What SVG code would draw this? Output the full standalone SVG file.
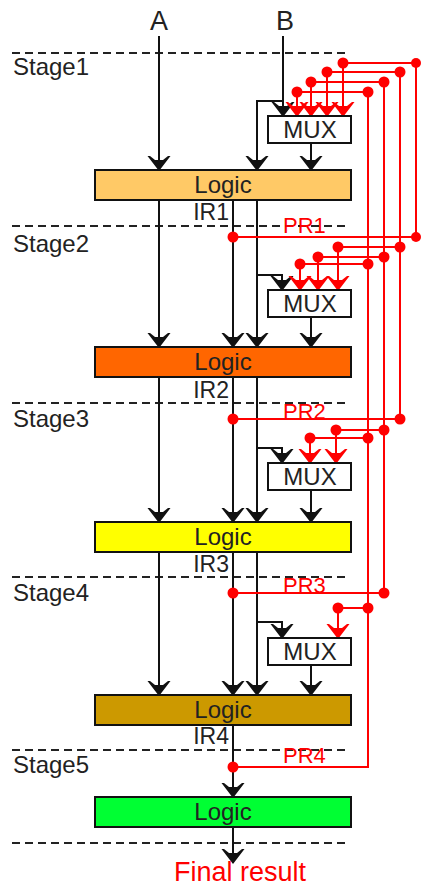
<svg xmlns="http://www.w3.org/2000/svg" width="421" height="887" viewBox="0 0 421 887">
<style>
text{font-family:"Liberation Sans",Arial,sans-serif;fill:#222}
.t{font-size:24px}
.ir{font-size:23px;text-anchor:end}
.pr{font-size:22px;fill:#ff0000}
.c{text-anchor:middle}
.box{stroke:#111;stroke-width:2}
.dash{stroke:#222;stroke-width:2;stroke-dasharray:8,5;fill:none}
.k{stroke:#111;stroke-width:2;fill:none}
.r{stroke:#ff0000;stroke-width:2;fill:none}
.dot{fill:#ff0000}
</style>
<defs>
<marker id="ak" viewBox="-15 -13 17 26" markerWidth="17" markerHeight="26" refX="0" refY="0" orient="auto" markerUnits="userSpaceOnUse">
<path d="M1,0 L-14,-11.5 L-14,-9 L-10,-4 L-10,4 L-14,9 L-14,11.5 Z" fill="#111"/>
</marker>
<marker id="ar" viewBox="-15 -13 17 26" markerWidth="17" markerHeight="26" refX="0" refY="0" orient="auto" markerUnits="userSpaceOnUse">
<path d="M1,0 L-14,-11.5 L-14,-9 L-10,-4 L-10,4 L-14,9 L-14,11.5 Z" fill="#ff0000"/>
</marker>
</defs>
<rect width="421" height="887" fill="#fff"/>

<g id="stages">
<path class="dash" d="M12,53H350M12,226H350M12,403H350M12,577H350M12,750H350M12,843H350"/>
<text class="t" x="13" y="75">Stage1</text>
<text class="t" x="13" y="252">Stage2</text>
<text class="t" x="13" y="427">Stage3</text>
<text class="t" x="13" y="601">Stage4</text>
<text class="t" x="13" y="773">Stage5</text>
</g>

<g id="inputs">
<text class="c" x="159" y="30" style="font-size:27px">A</text>
<text class="c" x="285" y="30" style="font-size:27px">B</text>
</g>

<g id="connectors">
<g class="k" marker-end="url(#ak)">
<path d="M159,36V170"/>
<path d="M283,36V116"/>
<path d="M283,101H257V170"/>
<path d="M311,143V170"/>
<path d="M159,200V347"/>
<path d="M233,200V347"/>
<path d="M257,200V347"/>
<path d="M257,275H282V290"/>
<path d="M311,317V347"/>
<path d="M159,377V522"/>
<path d="M233,377V522"/>
<path d="M257,377V522"/>
<path d="M257,448H282V463"/>
<path d="M311,490V522"/>
<path d="M159,552V695"/>
<path d="M233,552V695"/>
<path d="M257,552V695"/>
<path d="M257,622H282V638"/>
<path d="M311,664V695"/>
<path d="M233,725V797"/>
<path d="M233,827V863"/>
</g>
<g class="r" marker-end="url(#ar)">
<path d="M233,237H416V63H343V116"/>
<path d="M233,419H400V72H327V116"/>
<path d="M233,593H384V82H311V116"/>
<path d="M400,247H338V290"/>
<path d="M384,257H318V290"/>
<path d="M368,264H300V290"/>
<path d="M384,430H336V463"/>
<path d="M368,438H310V463"/>
<path d="M368,608H338V638"/>
<path d="M233,767H368V92H297V116"/>
</g>
<g class="dot">
<circle cx="233" cy="237" r="5.5"/><circle cx="416" cy="237" r="5"/>
<circle cx="416" cy="63" r="5"/><circle cx="343" cy="63" r="5.5"/>
<circle cx="400" cy="72" r="5.5"/><circle cx="327" cy="72" r="5.5"/>
<circle cx="384" cy="82" r="5.5"/><circle cx="311" cy="82" r="5.5"/>
<circle cx="368" cy="92" r="5.5"/><circle cx="297" cy="92" r="5.5"/>
<circle cx="400" cy="247" r="5.5"/><circle cx="338" cy="247" r="5.5"/>
<circle cx="384" cy="257" r="5.5"/><circle cx="318" cy="257" r="5.5"/>
<circle cx="368" cy="264" r="5.5"/><circle cx="300" cy="264" r="5.5"/>
<circle cx="233" cy="419" r="5.5"/><circle cx="400" cy="419" r="5.5"/>
<circle cx="384" cy="430" r="5.5"/><circle cx="336" cy="430" r="5.5"/>
<circle cx="368" cy="438" r="5.5"/><circle cx="310" cy="438" r="5.5"/>
<circle cx="233" cy="593" r="5.5"/><circle cx="384" cy="593" r="5.5"/>
<circle cx="368" cy="608" r="5.5"/><circle cx="338" cy="608" r="5.5"/>
<circle cx="233" cy="767" r="5.5"/>
</g>
</g>

<g id="logic1"><rect class="box" x="95" y="170" width="256" height="30" fill="#ffc966"/><text class="t c" x="223" y="193">Logic</text></g>
<g id="logic2"><rect class="box" x="95" y="347" width="256" height="30" fill="#ff6600"/><text class="t c" x="223" y="370">Logic</text></g>
<g id="logic3"><rect class="box" x="95" y="522" width="256" height="30" fill="#ffff00"/><text class="t c" x="223" y="545">Logic</text></g>
<g id="logic4"><rect class="box" x="95" y="695" width="256" height="30" fill="#cc9900"/><text class="t c" x="223" y="718">Logic</text></g>
<g id="logic5"><rect class="box" x="95" y="797" width="256" height="30" fill="#00ff33"/><text class="t c" x="223" y="820">Logic</text></g>

<g id="mux1"><rect class="box" x="268" y="116" width="83" height="27" fill="#fff"/><text class="t c" x="310" y="138">MUX</text></g>
<g id="mux2"><rect class="box" x="268" y="290" width="83" height="27" fill="#fff"/><text class="t c" x="310" y="312">MUX</text></g>
<g id="mux3"><rect class="box" x="268" y="463" width="83" height="27" fill="#fff"/><text class="t c" x="310" y="485">MUX</text></g>
<g id="mux4"><rect class="box" x="268" y="638" width="83" height="27" fill="#fff"/><text class="t c" x="310" y="660">MUX</text></g>

<g id="labels">
<text class="ir" x="229" y="220">IR1</text>
<text class="ir" x="229" y="398">IR2</text>
<text class="ir" x="229" y="572">IR3</text>
<text class="ir" x="229" y="744">IR4</text>
<text class="pr" x="283" y="233">PR1</text>
<text class="pr" x="283" y="419">PR2</text>
<text class="pr" x="283" y="593">PR3</text>
<text class="pr" x="283" y="763">PR4</text>
</g>

<g id="final">
<text x="240" y="881" style="font-size:27px;fill:#ff0000;text-anchor:middle">Final result</text>
</g>
</svg>
